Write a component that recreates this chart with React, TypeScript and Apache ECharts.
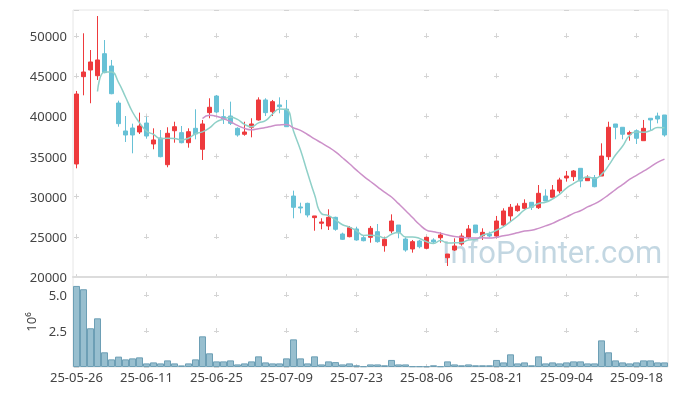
import { useEffect, useRef } from "react";
import * as echarts from "echarts";

const dates = [
  "25-05-26", "25-05-27", "25-05-28", "25-05-29", "25-05-30",
  "25-06-02", "25-06-04", "25-06-05", "25-06-09", "25-06-10", "25-06-11", "25-06-12", "25-06-13",
  "25-06-16", "25-06-17", "25-06-18", "25-06-19", "25-06-20", "25-06-23", "25-06-24", "25-06-25",
  "25-06-26", "25-06-27", "25-06-30",
  "25-07-01", "25-07-02", "25-07-03", "25-07-04", "25-07-07", "25-07-08", "25-07-09", "25-07-10",
  "25-07-11", "25-07-14", "25-07-15", "25-07-16", "25-07-17", "25-07-18", "25-07-21", "25-07-22",
  "25-07-23", "25-07-24", "25-07-25", "25-07-28", "25-07-29", "25-07-30", "25-07-31",
  "25-08-01", "25-08-04", "25-08-05", "25-08-06", "25-08-07", "25-08-08", "25-08-11", "25-08-12",
  "25-08-13", "25-08-14", "25-08-18", "25-08-19", "25-08-20", "25-08-21", "25-08-22", "25-08-25",
  "25-08-26", "25-08-27", "25-08-28", "25-08-29",
  "25-09-01", "25-09-02", "25-09-03", "25-09-04", "25-09-05", "25-09-08", "25-09-09", "25-09-10",
  "25-09-11", "25-09-12", "25-09-15", "25-09-16", "25-09-17", "25-09-18", "25-09-19", "25-09-22",
  "25-09-23", "25-09-24",
];

const opens = [
  34070, 44940, 45770, 45060, 47800, 46270, 41660, 38180, 38550, 38050,
  39170, 36560, 37310, 33980, 38210, 37970, 36720, 38510, 35900, 40460,
  42530, 39960, 40040, 38510, 37770, 38640, 39550, 42040, 40580, 41420,
  40900, 30080, 28720, 29170, 27390, 26690, 26350, 27430, 25350, 25020,
  25980, 24900, 24940, 25640, 23900, 25730, 26470, 24730, 23490, 24480,
  23570, 24610, 24890, 22400, 23360, 24110, 24940, 26470, 25140, 25350,
  25100, 26470, 27600, 28260, 28550, 29300, 28630, 30080, 29920, 30710,
  32330, 32490, 33530, 31990, 32360, 32570, 34980, 39050, 38640, 37770,
  38210, 36970, 39760, 40040, 40170,
];
const closes = [
  42780, 45520, 46770, 47020, 45440, 42820, 39090, 37680, 37680, 38800,
  37550, 37060, 34980, 37890, 38710, 36720, 38090, 37800, 39050, 41130,
  40540, 39630, 39130, 37680, 38050, 39050, 42040, 40460, 41830, 41200,
  38710, 28680, 28590, 27720, 27600, 26850, 27430, 25940, 24690, 26140,
  24610, 24520, 26060, 24400, 24690, 26970, 25520, 23360, 24400, 23770,
  24940, 24360, 25230, 22860, 23860, 25100, 25980, 25520, 25560, 25100,
  26970, 28220, 28680, 28840, 29170, 28680, 30420, 29460, 30830, 32080,
  32570, 33200, 31950, 32410, 31240, 35060, 38640, 38640, 37770, 37970,
  37270, 38510, 39550, 39670, 37680,
];
const lows = [
  33530, 42620, 41630, 44530, 45360, 42750, 38710, 36810, 35400, 37800,
  37220, 35900, 34900, 33660, 36720, 36640, 36100, 37140, 34570, 39760,
  40380, 39050, 38920, 37470, 37590, 37390, 39470, 40040, 40040, 40380,
  38710, 27310, 27930, 27430, 25760, 25940, 25850, 25760, 24610, 24940,
  24520, 24440, 24270, 24270, 23150, 25440, 24820, 23150, 23030, 23570,
  23450, 24190, 24270, 21370, 23240, 23900, 24690, 25440, 24610, 24940,
  24820, 26260, 26890, 28130, 28430, 28340, 28470, 29460, 29920, 30420,
  31870, 31950, 31170, 31990, 31170, 32570, 34570, 37140, 37140, 36970,
  36560, 36970, 38300, 39130, 37470,
];
const highs = [
  43160, 50340, 48260, 52490, 49500, 47020, 41950, 40040, 39090, 40460,
  39960, 38510, 38300, 38640, 39330, 38800, 38510, 40880, 39550, 42250,
  42660, 40880, 41830, 38640, 39330, 39760, 42370, 42250, 42040, 42370,
  42040, 30750, 29250, 29250, 27600, 27310, 28430, 27510, 25520, 26350,
  26260, 25100, 26350, 26600, 25020, 27800, 26470, 24940, 24610, 24610,
  25020, 24820, 25560, 22860, 24820, 25440, 26470, 26470, 26060, 25640,
  27600, 28550, 29090, 29170, 29670, 29300, 31450, 30920, 31450, 32360,
  33200, 33320, 33530, 32660, 32700, 36640, 39330, 39050, 38640, 38210,
  38380, 39550, 39760, 40460, 40170,
];

// volume, in millions of shares
const volumes = [
  5.63, 5.40, 2.69, 3.38, 1.02, 0.53, 0.72, 0.53, 0.60, 0.67,
  0.25, 0.32, 0.25, 0.46, 0.25, 0.11, 0.25, 0.53, 2.13, 0.95,
  0.39, 0.39, 0.46, 0.18, 0.25, 0.39, 0.74, 0.32, 0.25, 0.25,
  0.60, 1.92, 0.60, 0.25, 0.74, 0.18, 0.39, 0.34, 0.18, 0.25,
  0.12, 0.05, 0.18, 0.18, 0.12, 0.49, 0.18, 0.18, 0.05, 0.05,
  0.05, 0.12, 0.05, 0.39, 0.18, 0.12, 0.18, 0.12, 0.12, 0.12,
  0.49, 0.32, 0.88, 0.25, 0.32, 0.12, 0.74, 0.25, 0.32, 0.25,
  0.32, 0.39, 0.39, 0.25, 0.25, 1.85, 1.02, 0.46, 0.32, 0.25,
  0.32, 0.46, 0.46, 0.32, 0.32,
];

const ma5 = [
  null, null, null, 43100, 45510, 45510, 44230, 42410, 40540, 39210,
  38160, 37750, 37210, 37260, 37240, 37070, 37280, 37840, 38070, 38560,
  39320, 39630, 39900, 39620, 39010, 38710, 39190, 39460, 40290, 40920,
  40850, 38180, 35800, 32980, 30260, 27890, 27640, 27110, 26500, 26210,
  25760, 25180, 25200, 25150, 24860, 25330, 25530, 24990, 24990, 24800,
  24400, 24170, 24540, 24230, 24250, 24280, 24610, 24660, 25200, 25450,
  25820, 26270, 26900, 27560, 28370, 28710, 29150, 29310, 29710, 30290,
  31070, 31620, 32120, 32440, 32270, 32770, 33860, 35190, 36270, 37610,
  38050, 38030, 38220, 38620, 38570,
];
const ma20 = [
  null, null, null, null, null, null, null, null, null, null,
  null, null, null, null, null, null, null, null, 39740, 40130,
  40020, 39720, 39340, 38870, 38500, 38320, 38460, 38600, 38810, 38930,
  38990, 38570, 38250, 37740, 37190, 36690, 36160, 35570, 34850, 34100,
  33300, 32550, 31890, 31230, 30560, 29960, 29130, 28280, 27400, 26530,
  25840, 25630, 25460, 25220, 25030, 24940, 24870, 24850, 24890, 24840,
  24960, 25140, 25280, 25500, 25720, 25810, 26050, 26360, 26680, 27090,
  27480, 27920, 28250, 28730, 29100, 29600, 30230, 30890, 31500, 32140,
  32660, 33170, 33710, 34260, 34680,
];

const priceMin = 20000;
const priceMax = 53240;
const priceStep = 5000;
const volMin = 0;
const volMax = 6.25;
const volStep = 2.5;

export default function App() {
  const ref = useRef<HTMLDivElement>(null);

  useEffect(() => {
    if (!ref.current) return;
    const chart = echarts.init(ref.current, undefined, { renderer: "svg" });

    const gridL = 73;
    const gridW = 595;
    const pTop = 10;
    const pH = 267;
    const vTop = 277;
    const vH = 90;
    const arm = 5;
    const band = gridW / dates.length;
    const hPeriod = band * 10;
    const hOffset = hPeriod - (band / 2 - arm / 2);

    const pPx = pH / (priceMax - priceMin);
    const pPeriod = priceStep * pPx;
    const pFirst = (priceMax - Math.floor(priceMax / priceStep) * priceStep) * pPx - arm / 2;
    const pOffset = pPeriod - (pFirst % pPeriod);

    const vPx = vH / (volMax - volMin);
    const vPeriod = volStep * vPx;
    const vFirst = (volMax - Math.floor(volMax / volStep) * volStep) * vPx - arm / 2;
    const vOffset = vPeriod - (vFirst % vPeriod);

    const crossColor = "#d4d4d4";
    const labelColor = "#444";
    const up = "#ee3a3d";
    const down = "#67c1d6";

    const candle = dates.map((_, i) => [opens[i], closes[i], lows[i], highs[i]]);

    chart.setOption({
      animation: false,
      textStyle: { fontFamily: "Noto Sans" },
      graphic: [
        {
          type: "text",
          left: 442,
          top: 237,
          z: 0,
          style: {
            text: "InfoPointer.com",
            fontSize: 31,
            fontFamily: "Roboto",
            fill: "rgba(145,182,202,0.55)",
          },
        },
      ],
      grid: [
        { left: gridL, top: pTop, width: gridW, height: pH, show: true, borderColor: "#e6e6e6", borderWidth: 1 },
        { left: gridL, top: vTop, width: gridW, height: vH, show: true, borderColor: "#e6e6e6", borderWidth: 1 },
      ],
      xAxis: [
        {
          type: "category",
          gridIndex: 0,
          data: dates,
          boundaryGap: true,
          axisLabel: { show: false },
          axisTick: { show: false },
          axisLine: { show: true, lineStyle: { color: "#dcdcdc", width: 2 } },
          splitLine: {
            show: true,
            interval: 9,
            alignWithLabel: true,
            lineStyle: { color: crossColor, width: 1, type: [arm, pPeriod - arm], dashOffset: pOffset },
          },
        },
        {
          type: "category",
          gridIndex: 1,
          data: dates,
          boundaryGap: true,
          axisLabel: { show: true, interval: 9, color: labelColor, fontSize: 13, margin: 3 },
          axisTick: { show: false },
          axisLine: { show: false },
          splitLine: {
            show: true,
            interval: 9,
            alignWithLabel: true,
            lineStyle: { color: crossColor, width: 1, type: [arm, vPeriod - arm], dashOffset: vOffset },
          },
        },
      ],
      yAxis: [
        {
          type: "value",
          gridIndex: 0,
          min: priceMin,
          max: priceMax,
          interval: priceStep,
          axisLabel: {
            color: labelColor,
            fontSize: 13,
            margin: 6,
            showMaxLabel: false,
            formatter: (v: number) => String(v),
          },
          axisLine: { show: false },
          axisTick: { show: false },
          splitLine: {
            show: true,
            lineStyle: { color: crossColor, width: 1, type: [arm, hPeriod - arm], dashOffset: hOffset },
          },
        },
        {
          type: "value",
          gridIndex: 1,
          min: volMin,
          max: volMax,
          interval: volStep,
          name: "10⁶",
          nameLocation: "middle",
          nameRotate: 90,
          nameGap: 34,
          nameTextStyle: { color: labelColor, fontSize: 13 },
          axisLabel: {
            color: labelColor,
            fontSize: 13,
            margin: 6,
            showMinLabel: false,
            showMaxLabel: false,
            formatter: (v: number) => v.toFixed(1),
          },
          axisLine: { show: false },
          axisTick: { show: false },
          splitLine: {
            show: true,
            lineStyle: { color: crossColor, width: 1, type: [arm, hPeriod - arm], dashOffset: hOffset },
          },
        },
      ],
      series: [
        {
          type: "candlestick",
          xAxisIndex: 0,
          yAxisIndex: 0,
          data: candle,
          barWidth: 5,
          itemStyle: {
            color: up,
            color0: down,
            borderColor: up,
            borderColor0: down,
            borderWidth: 1,
          },
        },
        {
          type: "line",
          xAxisIndex: 0,
          yAxisIndex: 0,
          data: ma5,
          smooth: true,
          showSymbol: false,
          lineStyle: { color: "#8fd0c8", width: 1.5 },
          z: 3,
        },
        {
          type: "line",
          xAxisIndex: 0,
          yAxisIndex: 0,
          data: ma20,
          smooth: true,
          showSymbol: false,
          lineStyle: { color: "#cc90c9", width: 1.5 },
          z: 3,
        },
        {
          type: "bar",
          xAxisIndex: 1,
          yAxisIndex: 1,
          data: volumes,
          barCategoryGap: "0%",
          itemStyle: { color: "#98bfcf", borderColor: "#6d9fb5", borderWidth: 1 },
        },
      ],
    });

    return () => chart.dispose();
  }, []);

  return (
    <div
      ref={ref}
      style={{ position: "fixed", left: 0, top: 0, width: 677, height: 396 }}
    />
  );
}
